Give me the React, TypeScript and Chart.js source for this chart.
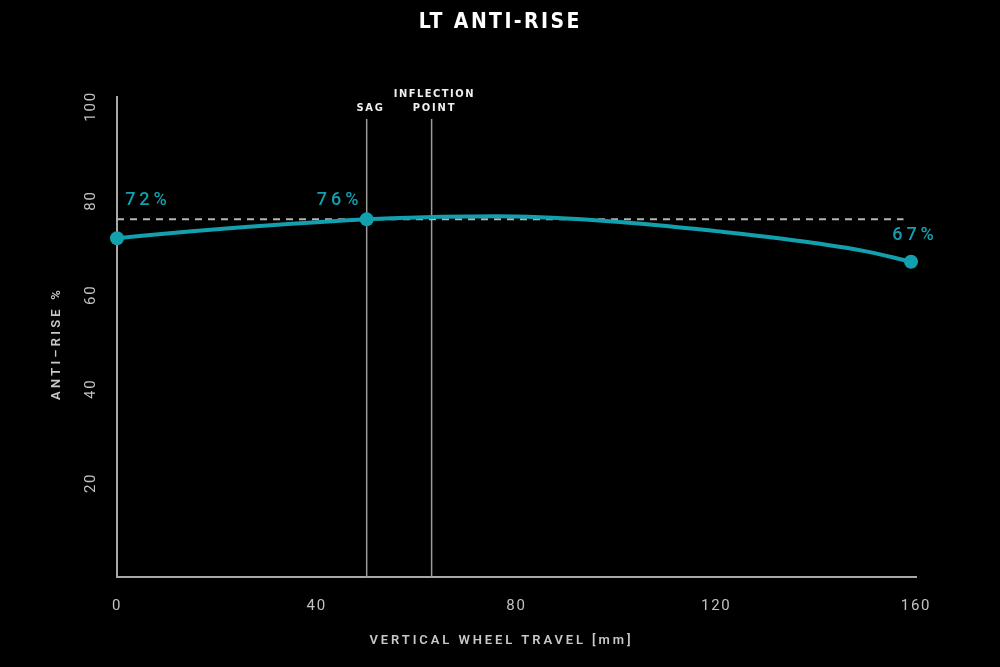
import { useEffect, useRef } from 'react';
import { Chart, registerables } from 'chart.js';

Chart.register(...registerables);

// Anti-rise curve over vertical wheel travel
const travelMm = [0, 10, 20, 30, 40, 50, 60, 70, 80, 90, 100, 110, 120, 130, 140, 150, 159];
const antiRisePct = [72, 73.0, 73.9, 74.7, 75.4, 76, 76.4, 76.6, 76.6, 76.2, 75.5, 74.6, 73.5, 72.3, 70.9, 69.2, 67];

// Highlighted points and their labels
const markerTravel = [0, 50, 159];
const markerLabels = ['72%', '76%', '67%'];

// Reference lines
const sagTravel = 50;
const inflectionTravel = 63;
const sagAntiRise = 76;
const sagRefEndTravel = 157.5;
const refLineTop = 97.3;

// Axis ticks
const xTicks = [0, 40, 80, 120, 160];
const yTicks = [20, 40, 60, 80, 100];

const TEAL = '#12a0ae';

function spacedText(
  ctx: CanvasRenderingContext2D,
  text: string,
  x: number,
  y: number,
  font: string,
  color: string,
  spacing: number,
  rotation = 0,
  scaleX = 1
) {
  ctx.save();
  ctx.font = font;
  ctx.fillStyle = color;
  (ctx as any).letterSpacing = `${spacing}px`;
  ctx.textBaseline = 'middle';
  ctx.textAlign = 'left';
  const w = ctx.measureText(text).width - spacing;
  ctx.translate(x, y);
  ctx.rotate(rotation);
  ctx.scale(scaleX, 1);
  ctx.fillText(text, -w / 2, 0);
  ctx.restore();
}

const annotations = {
  id: 'annotations',
  beforeDraw(chart: any) {
    const ctx = chart.ctx as CanvasRenderingContext2D;
    ctx.save();
    ctx.fillStyle = '#000';
    ctx.fillRect(0, 0, chart.width, chart.height);
    ctx.restore();
    (ctx as any).letterSpacing = '1.8px';
  },
  afterDraw(chart: any) {
    const ctx = chart.ctx as CanvasRenderingContext2D;
    (ctx as any).letterSpacing = '0px';
    const xs = chart.scales.x;

    // Title
    spacedText(ctx, 'LT ANTI-RISE', 499, 23, '700 21px "DejaVu Sans Condensed"', '#ffffff', 2.4);

    // Axis titles
    spacedText(ctx, 'VERTICAL WHEEL TRAVEL [mm]', 500, 641, '600 13px Roboto', '#c8c8c8', 2.9);
    spacedText(ctx, 'ANTI\u2013RISE %', 57, 345, '600 13px Roboto', '#c8c8c8', 3.2, -Math.PI / 2);

    // Reference line captions
    const sx = xs.getPixelForValue(sagTravel);
    const ix = xs.getPixelForValue(inflectionTravel);
    const capFont = '700 11px "DejaVu Sans Condensed"';
    spacedText(ctx, 'SAG', sx + 3, 108, capFont, '#f0f0f0', 1.8);
    spacedText(ctx, 'INFLECTION', ix + 2, 94, capFont, '#f0f0f0', 1.5);
    spacedText(ctx, 'POINT', ix + 2, 108, capFont, '#f0f0f0', 1.8);

    // Value labels beside the highlighted points
    const meta = chart.getDatasetMeta(0);
    const offsets = [
      [29, -38],
      [-29, -19],
      [2, -26],
    ];
    markerTravel.forEach((t, k) => {
      const idx = travelMm.indexOf(t);
      const pt = meta.data[idx];
      spacedText(ctx, markerLabels[k], pt.x + offsets[k][0], pt.y + offsets[k][1], '500 18px Roboto', TEAL, 4);
    });
  },
};

export default function App() {
  const canvasRef = useRef<HTMLCanvasElement | null>(null);

  useEffect(() => {
    if (!canvasRef.current) return;
    const chart = new Chart(canvasRef.current, {
      type: 'line',
      data: {
        datasets: [
          {
            data: travelMm.map((x, i) => ({ x, y: antiRisePct[i] })),
            borderColor: TEAL,
            borderWidth: 4,
            pointRadius: travelMm.map((x) => (markerTravel.includes(x) ? 7 : 0)),
            pointBackgroundColor: TEAL,
            pointBorderWidth: 0,
            pointHoverRadius: 0,
            tension: 0.4,
            clip: false,
            order: 0,
          } as any,
          {
            data: [
              { x: 0, y: sagAntiRise },
              { x: sagRefEndTravel, y: sagAntiRise },
            ],
            borderColor: '#b5b5b5',
            borderWidth: 2,
            borderDash: [7, 6],
            pointRadius: 0,
            clip: false,
            order: 1,
          } as any,
          {
            data: [
              { x: sagTravel, y: 0 },
              { x: sagTravel, y: refLineTop },
            ],
            borderColor: '#9a9a9a',
            borderWidth: 1.5,
            pointRadius: 0,
            clip: false,
            order: 2,
          } as any,
          {
            data: [
              { x: inflectionTravel, y: 0 },
              { x: inflectionTravel, y: refLineTop },
            ],
            borderColor: '#9a9a9a',
            borderWidth: 1.5,
            pointRadius: 0,
            clip: false,
            order: 2,
          } as any,
        ],
      },
      options: {
        animation: false,
        responsive: true,
        maintainAspectRatio: false,
        layout: { padding: { top: 97, right: 84, left: 0, bottom: 0 } },
        plugins: {
          legend: { display: false },
          tooltip: { enabled: false },
          title: { display: false },
        },
        scales: {
          x: {
            type: 'linear',
            min: 0,
            max: 160,
            afterFit: (s: any) => {
              s.height = 90;
            },
            afterBuildTicks: (s: any) => {
              s.ticks = xTicks.map((v) => ({ value: v }));
            },
            grid: { display: false, drawTicks: false },
            border: { display: true, color: '#a8a8a8', width: 2 },
            ticks: {
              color: '#c2c2c2',
              font: { family: 'Roboto', size: 15 },
              padding: 20,
              maxRotation: 0,
              minRotation: 0,
            },
          },
          y: {
            type: 'linear',
            min: 0,
            max: 102,
            afterFit: (s: any) => {
              s.width = 117;
            },
            afterBuildTicks: (s: any) => {
              s.ticks = yTicks.map((v) => ({ value: v }));
            },
            grid: { display: false, drawTicks: false },
            border: { display: true, color: '#a8a8a8', width: 2 },
            ticks: {
              color: '#c2c2c2',
              font: { family: 'Roboto', size: 15 },
              padding: 13,
              minRotation: 90,
              maxRotation: 90,
              crossAlign: 'center',
            },
          },
        },
      } as any,
      plugins: [annotations],
    });
    return () => chart.destroy();
  }, []);

  return (
    <div style={{ position: 'absolute', left: 0, top: 0, width: 1000, height: 667, background: '#000' }}>
      <canvas ref={canvasRef} />
    </div>
  );
}
